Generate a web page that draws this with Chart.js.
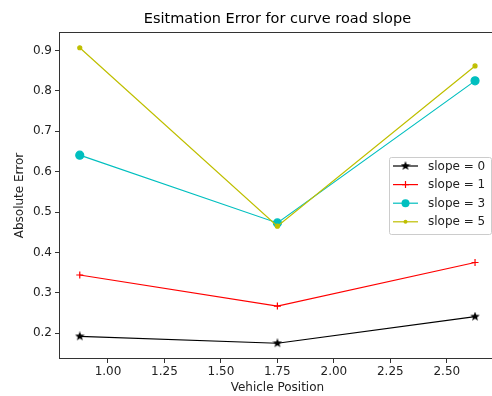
<!DOCTYPE html>
<html>
<head>
<meta charset="utf-8">
<script src="https://cdn.jsdelivr.net/npm/chart.js@4"></script>
<style>
  html, body { margin: 0; padding: 0; overflow: hidden; background: #fff; }
  #wrap { width: 500px; height: 396px; }
</style>
</head>
<body>
<div id="wrap"><canvas id="errChart" width="500" height="396"></canvas></div>
<script>
// data
const positions = [0.875, 1.75, 2.625];
const slope0 = [0.192, 0.175, 0.241];
const slope1 = [0.344, 0.267, 0.375];
const slope3 = [0.641, 0.473, 0.825];
const slope5 = [0.907, 0.465, 0.862];
const seriesLabels = ['slope = 0', 'slope = 1', 'slope = 3', 'slope = 5'];
const xTicks = [1.00, 1.25, 1.50, 1.75, 2.00, 2.25, 2.50];
const yTicks = [0.2, 0.3, 0.4, 0.5, 0.6, 0.7, 0.8, 0.9];

const FONT = "'DejaVu Sans', sans-serif";

// filled star like matplotlib '*'
function makeStar(size, color) {
    const c = document.createElement('canvas');
    c.width = size; c.height = size;
    const g = c.getContext('2d');
    const cx = size / 2, cy = size / 2, R = size / 2, r = R * 0.42;
    g.beginPath();
    for (let i = 0; i < 10; i++) {
        const rad = i % 2 === 0 ? R : r;
        const a = -Math.PI / 2 + i * Math.PI / 5;
        const px = cx + rad * Math.cos(a), py = cy + rad * Math.sin(a);
        if (i === 0) g.moveTo(px, py); else g.lineTo(px, py);
    }
    g.closePath();
    g.fillStyle = color;
    g.fill();
    return c;
}
const starImg = makeStar(10, '#000');

function toPoints(ys) {
    return positions.map((x, i) => ({ x: x, y: ys[i] }));
}

const styles = [
    { color: '#000000', pointStyle: starImg, radius: 4 },
    { color: '#ff0000', pointStyle: 'cross', radius: 3.5 },
    { color: '#00bfbf', pointStyle: 'circle', radius: 4 },
    { color: '#bfbf00', pointStyle: 'circle', radius: 2 }
];
const allSeries = [slope0, slope1, slope3, slope5];

const datasets = allSeries.map((ys, i) => ({
    label: seriesLabels[i],
    data: toPoints(ys),
    showLine: true,
    borderColor: styles[i].color,
    backgroundColor: styles[i].color,
    borderWidth: 1.2,
    pointStyle: styles[i].pointStyle,
    pointRadius: styles[i].radius,
    pointBorderWidth: 1.2,
    pointBorderColor: styles[i].color,
    pointBackgroundColor: styles[i].color,
    order: 3 - i
}));

// title, axes box and legend drawn like matplotlib
const frame = {
    id: 'frame',
    beforeDatasetsDraw(chart) {
        const { ctx, chartArea: a } = chart;
        ctx.save();
        ctx.strokeStyle = '#333';
        ctx.lineWidth = 1;
        ctx.strokeRect(Math.round(a.left) - 0.5, Math.round(a.top) - 0.5,
            Math.round(a.right - a.left) + 1, Math.round(a.bottom - a.top) + 1);
        ctx.restore();
    },
    afterDraw(chart) {
        const { ctx, chartArea: a } = chart;
        ctx.save();
        ctx.fillStyle = '#000';
        ctx.font = '14.5px ' + FONT;
        ctx.textAlign = 'center';
        ctx.textBaseline = 'middle';
        ctx.fillText('Esitmation Error for curve road slope', (a.left + a.right) / 2, 19);

        // legend
        const bx = 389, by = 157, bw = 102, bh = 77;
        ctx.fillStyle = 'rgba(255,255,255,0.8)';
        ctx.strokeStyle = '#cccccc';
        ctx.lineWidth = 1;
        ctx.beginPath();
        ctx.roundRect(bx + 0.5, by + 0.5, bw, bh, 2);
        ctx.fill();
        ctx.stroke();
        ctx.font = '12px ' + FONT;
        ctx.textAlign = 'left';
        seriesLabels.forEach((lab, i) => {
            const y = 166 + i * 18.6;
            const st = styles[i];
            ctx.strokeStyle = st.color;
            ctx.fillStyle = st.color;
            ctx.lineWidth = 1.2;
            ctx.beginPath();
            ctx.moveTo(393, y); ctx.lineTo(418, y);
            ctx.stroke();
            const mx = 405.5;
            if (i === 0) {
                ctx.drawImage(starImg, mx - 5, y - 5);
            } else if (i === 1) {
                ctx.beginPath();
                ctx.moveTo(mx - 3.5, y); ctx.lineTo(mx + 3.5, y);
                ctx.moveTo(mx, y - 3.5); ctx.lineTo(mx, y + 3.5);
                ctx.stroke();
            } else {
                ctx.beginPath();
                ctx.arc(mx, y, st.radius, 0, Math.PI * 2);
                ctx.fill();
            }
            ctx.fillStyle = '#222';
            ctx.textBaseline = 'middle';
            ctx.fillText(lab, 428, y + 0.5);
        });
        ctx.restore();
    }
};

const ctx = document.getElementById('errChart').getContext('2d');
new Chart(ctx, {
    type: 'scatter',
    data: { datasets: datasets },
    plugins: [frame],
    options: {
        responsive: false,
        animation: false,
        layout: { padding: { top: 33, right: 4, left: 0, bottom: 0 } },
        plugins: {
            legend: { display: false },
            tooltip: { enabled: false },
            title: { display: false }
        },
        scales: {
            x: {
                type: 'linear',
                min: 0.7875,
                max: 2.7125,
                afterBuildTicks: s => { s.ticks = xTicks.map(v => ({ value: v })); },
                afterFit: s => { s.height = 38; },
                border: { display: false },
                grid: { drawOnChartArea: false, drawTicks: true, tickLength: 5, color: '#333' },
                ticks: {
                    color: '#222', padding: 2, maxRotation: 0,
                    font: { family: FONT, size: 12 },
                    callback: v => Number(v).toFixed(2)
                },
                title: {
                    display: true, text: 'Vehicle Position', color: '#222',
                    font: { family: FONT, size: 12 },
                    padding: { top: 0, bottom: 1 }
                }
            },
            y: {
                type: 'linear',
                min: 0.1384,
                max: 0.9436,
                afterBuildTicks: s => { s.ticks = yTicks.map(v => ({ value: v })); },
                afterFit: s => { s.width = 60; },
                border: { display: false },
                grid: { drawOnChartArea: false, drawTicks: true, tickLength: 5, color: '#333' },
                ticks: {
                    color: '#222', padding: 3,
                    font: { family: FONT, size: 12 },
                    callback: v => Number(v).toFixed(1)
                },
                title: {
                    display: true, text: 'Absolute Error', color: '#222',
                    font: { family: FONT, size: 12 },
                    padding: { top: 13, bottom: 0 }
                }
            }
        }
    }
});
</script>
</body>
</html>
